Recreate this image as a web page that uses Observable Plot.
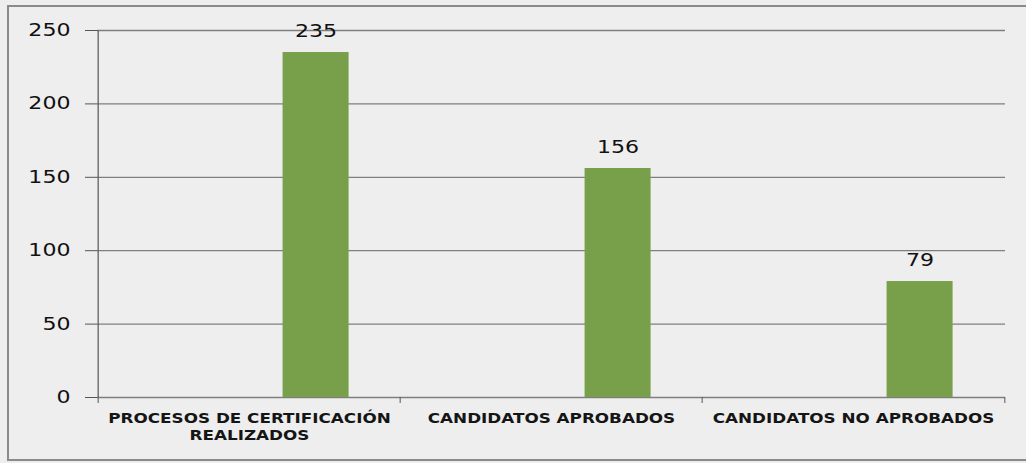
<!DOCTYPE html>
<html>
<head>
<meta charset="utf-8">
<script src="https://cdn.jsdelivr.net/npm/d3@7"></script>
<script src="https://cdn.jsdelivr.net/npm/@observablehq/plot@0.6"></script>
<style>
  html, body { margin: 0; padding: 0; background: #eeeeee; }
  #wrap { position: relative; width: 1026px; height: 463px; overflow: hidden; }
  #frame { position: absolute; left: 7px; top: 5px; width: 1030px; height: 456px;
           border: 2px solid #8a8a8a; box-sizing: border-box; pointer-events: none; }
  #chart { position: absolute; left: 0; top: 0; }
  svg text { font-family: "DejaVu Sans", sans-serif; }
</style>
</head>
<body>
<div id="wrap"><div id="chart"></div><div id="frame"></div></div>
<script>
const categories = ["PROCESOS DE CERTIFICACIÓN\nREALIZADOS", "CANDIDATOS APROBADOS", "CANDIDATOS NO APROBADOS"];
const values = [235, 156, 79];
const yTicks = [0, 50, 100, 150, 200, 250];

const data = categories.map((c, i) => ({category: c, value: values[i]}));

const W = 1026, H = 463;
const mL = 97, mR = 21, mT = 30, mB = 66;
const step = (W - mL - mR) / categories.length;
const barShift = step * 0.22;

const chart = Plot.plot({
  width: W,
  height: H,
  marginLeft: mL,
  marginRight: mR,
  marginTop: mT,
  marginBottom: mB,
  style: {background: "transparent", color: "#111", overflow: "visible"},
  x: {domain: categories, paddingInner: 0.78, paddingOuter: 0.39, label: null},
  y: {domain: [0, 250], label: null},
  marks: [
    Plot.gridY(yTicks, {stroke: "#7f7f7f", strokeOpacity: 1, strokeWidth: 1.3}),
    Plot.barY(data, {x: "category", y: "value", fill: "#78a04b", dx: barShift}),
    Plot.text(data, {x: "category", y: "value", text: d => String(d.value), dx: barShift, dy: -21,
      lineAnchor: "middle", fontSize: 17, fill: "#111"}),
    Plot.axisY({ticks: yTicks, tickSize: 12, tickPadding: 15, fontSize: 17, stroke: "#555"}),
    Plot.ruleX(categories, {x: d => d, dx: -step / 2, y1: 0, y2: 250, stroke: "#555", strokeWidth: 1.2,
      filter: (d, i) => i === 0}),
    Plot.ruleX(categories, {x: d => d, dx: -step / 2, y: 0, insetBottom: -6, stroke: "#555"}),
    Plot.ruleX(categories.slice(-1), {x: d => d, dx: step / 2, y: 0, insetBottom: -6, stroke: "#555"}),
    Plot.axisX({tickSize: 0, tickPadding: 13, fontSize: 14, fontWeight: "bold", lineHeight: 1.25,
      fill: "#151515"})
  ]
});

// widen the glyphs horizontally (the reference is a horizontally stretched scan), about each text's anchor
function stretch(selector, s) {
  chart.querySelectorAll(selector).forEach(el => {
    const t = el.getAttribute("transform");
    if (t) el.setAttribute("transform", `${t} scale(${s},1)`);
  });
}
stretch("g[aria-label='y-axis tick label'] text", 1.3);
stretch("g[aria-label='text'] text", 1.3);
stretch("g[aria-label='x-axis tick label'] text", 1.2);

document.getElementById("chart").appendChild(chart);
</script>
</body>
</html>
